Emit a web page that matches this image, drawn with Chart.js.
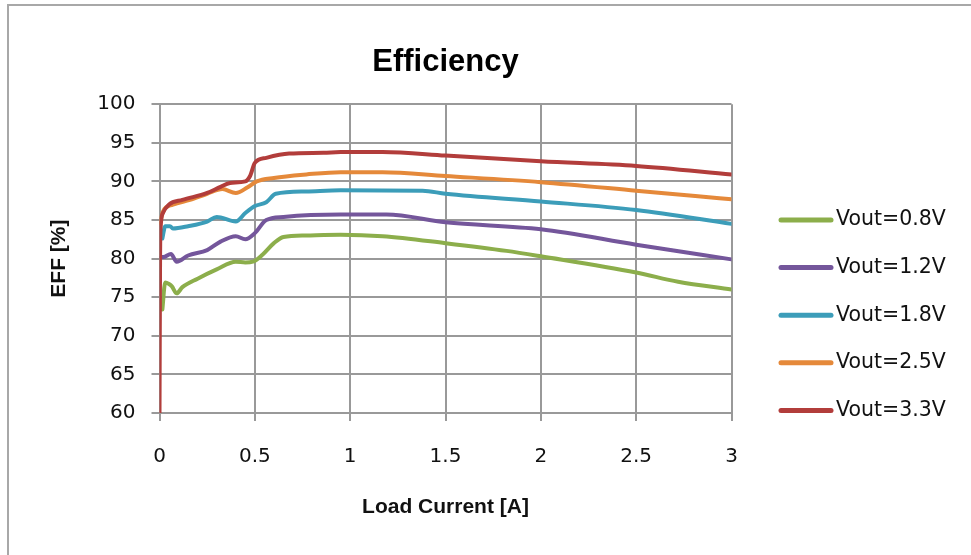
<!DOCTYPE html>
<html>
<head>
<meta charset="utf-8">
<script src="https://cdn.jsdelivr.net/npm/chart.js@4.4.1/dist/chart.umd.min.js"></script>
<style>
    html, body { margin: 0; padding: 0; background: #fff; overflow: hidden; }
    #frame {
        position: absolute; left: 7px; top: 4px; width: 1000px; height: 600px;
        border-left: 2px solid #a8a8a8; border-top: 2px solid #a8a8a8;
    }
    #chart { position: absolute; left: 0; top: 0; }
</style>
</head>
<body>
<div id="frame"></div>
<canvas id="chart" width="971" height="555"></canvas>
<script>
// load current [A] and efficiency [%] per output voltage
const seriesLabels = ['Vout=0.8V', 'Vout=1.2V', 'Vout=1.8V', 'Vout=2.5V', 'Vout=3.3V'];
const seriesColors = ['#8cae4b', '#74569b', '#3c9db9', '#e5893a', '#b23d3b'];

const current08 = [0.015, 0.03, 0.05, 0.065, 0.09, 0.12, 0.2, 0.3, 0.4, 0.45, 0.49, 0.54, 0.6, 0.65, 0.77, 0.95, 1.17, 1.5, 1.82, 2.0, 2.5, 2.72, 3.0];
const eff08 = [73.4, 76.9, 76.7, 76.4, 75.5, 76.3, 77.4, 78.6, 79.6, 79.5, 79.6, 80.5, 82.0, 82.8, 83.0, 83.1, 82.9, 82.0, 81.0, 80.3, 78.2, 77.0, 76.0];

const current12 = [0.01, 0.02, 0.06, 0.09, 0.15, 0.25, 0.32, 0.4, 0.45, 0.5, 0.56, 0.65, 0.95, 1.19, 1.5, 2.0, 2.5, 3.0];
const eff12 = [80.2, 80.2, 80.6, 79.6, 80.4, 81.1, 82.2, 82.9, 82.5, 83.3, 85.0, 85.4, 85.7, 85.7, 84.7, 83.8, 81.8, 79.9];

const current18 = [0.015, 0.03, 0.055, 0.07, 0.15, 0.25, 0.3, 0.4, 0.45, 0.5, 0.56, 0.61, 0.77, 0.95, 1.38, 1.5, 2.0, 2.5, 3.0];
const eff18 = [82.6, 84.2, 84.2, 83.9, 84.2, 84.8, 85.4, 84.8, 85.9, 86.8, 87.3, 88.4, 88.7, 88.85, 88.8, 88.4, 87.4, 86.3, 84.5];

const current25 = [0.003, 0.018, 0.07, 0.16, 0.25, 0.33, 0.4, 0.46, 0.51, 0.6, 0.77, 0.95, 1.17, 1.5, 2.0, 2.5, 2.81, 3.0];
const eff25 = [84.6, 86.1, 87.0, 87.6, 88.4, 89.0, 88.5, 89.2, 90.0, 90.45, 90.9, 91.2, 91.2, 90.7, 89.9, 88.8, 88.1, 87.7];

const current33 = [0, 0.003, 0.006, 0.018, 0.05, 0.12, 0.25, 0.32, 0.37, 0.45, 0.475, 0.5, 0.56, 0.68, 0.86, 0.95, 1.17, 1.5, 2.0, 2.5, 3.0];
const eff33 = [60, 80, 84, 85.9, 87.0, 87.6, 88.5, 89.3, 89.8, 90.0, 90.7, 92.4, 93.05, 93.6, 93.7, 93.8, 93.8, 93.35, 92.6, 92.0, 90.9];

const xTicks = [0, 0.5, 1, 1.5, 2, 2.5, 3];
const yTicks = [60, 65, 70, 75, 80, 85, 90, 95, 100];

const currents = [current08, current12, current18, current25, current33];
const effs = [eff08, eff12, eff18, eff25, eff33];

const datasets = seriesLabels.map((label, i) => ({
    label: label,
    data: currents[i].map((x, k) => ({ x: x, y: effs[i][k] })),
    borderColor: seriesColors[i],
    backgroundColor: seriesColors[i],
    borderWidth: 4,
    borderCapStyle: 'round',
    borderJoinStyle: 'round',
    pointRadius: 0,
    showLine: true,
    cubicInterpolationMode: 'monotone',
    order: seriesLabels.length - i
}));

// legend drawn to the right of the plot, one line per series
const sideLegend = {
    id: 'sideLegend',
    afterDraw(chart) {
        const c = chart.ctx;
        chart.data.datasets.forEach((ds, i) => {
            const y = 220 + i * 47.6;
            c.save();
            c.strokeStyle = ds.borderColor;
            c.lineWidth = 5;
            c.lineCap = 'round';
            c.beginPath();
            c.moveTo(781, y);
            c.lineTo(831, y);
            c.stroke();
            c.fillStyle = '#111';
            c.font = '20.5px "DejaVu Sans"';
            c.textBaseline = 'middle';
            c.fillText(ds.label, 836, y);
            c.restore();
        });
    }
};

const gridColor = '#999';

new Chart(document.getElementById('chart').getContext('2d'), {
    type: 'scatter',
    data: { datasets: datasets },
    plugins: [sideLegend],
    options: {
        responsive: false,
        animation: false,
        devicePixelRatio: 1,
        layout: { padding: { left: 10, right: 239.5, top: 0, bottom: 10 } },
        plugins: {
            legend: { display: false },
            tooltip: { enabled: false },
            title: {
                display: true,
                text: 'Efficiency',
                fullSize: false,
                color: '#000',
                font: { family: 'Liberation Sans', size: 31, weight: 'bold' },
                padding: { top: 44, bottom: 23 }
            }
        },
        scales: {
            x: {
                type: 'linear',
                min: 0,
                max: 3,
                afterBuildTicks: s => { s.ticks = xTicks.map(v => ({ value: v })); },
                afterFit: s => { s.height = 132; },
                ticks: {
                    color: '#111',
                    padding: 24,
                    font: { family: 'DejaVu Sans', size: 20 },
                    callback: v => String(v)
                },
                grid: { color: gridColor, lineWidth: 2, tickLength: 8 },
                border: { color: gridColor, width: 2 },
                title: {
                    display: true,
                    text: 'Load Current [A]',
                    color: '#111',
                    font: { family: 'Liberation Sans', size: 21, weight: 'bold' },
                    padding: { top: 0, bottom: 25 }
                }
            },
            y: {
                min: 60,
                max: 100,
                afterBuildTicks: s => { s.ticks = yTicks.map(v => ({ value: v })); },
                afterFit: s => { s.width = 149.5; },
                ticks: {
                    color: '#111',
                    padding: 16,
                    font: { family: 'DejaVu Sans', size: 20 },
                    callback: v => String(v)
                },
                grid: { color: gridColor, lineWidth: 2, tickLength: 8 },
                border: { color: gridColor, width: 2 },
                title: {
                    display: true,
                    text: 'EFF [%]',
                    color: '#111',
                    font: { family: 'Liberation Sans', size: 21, weight: 'bold' },
                    padding: { top: 37, bottom: 0 }
                }
            }
        }
    }
});
</script>
</body>
</html>
